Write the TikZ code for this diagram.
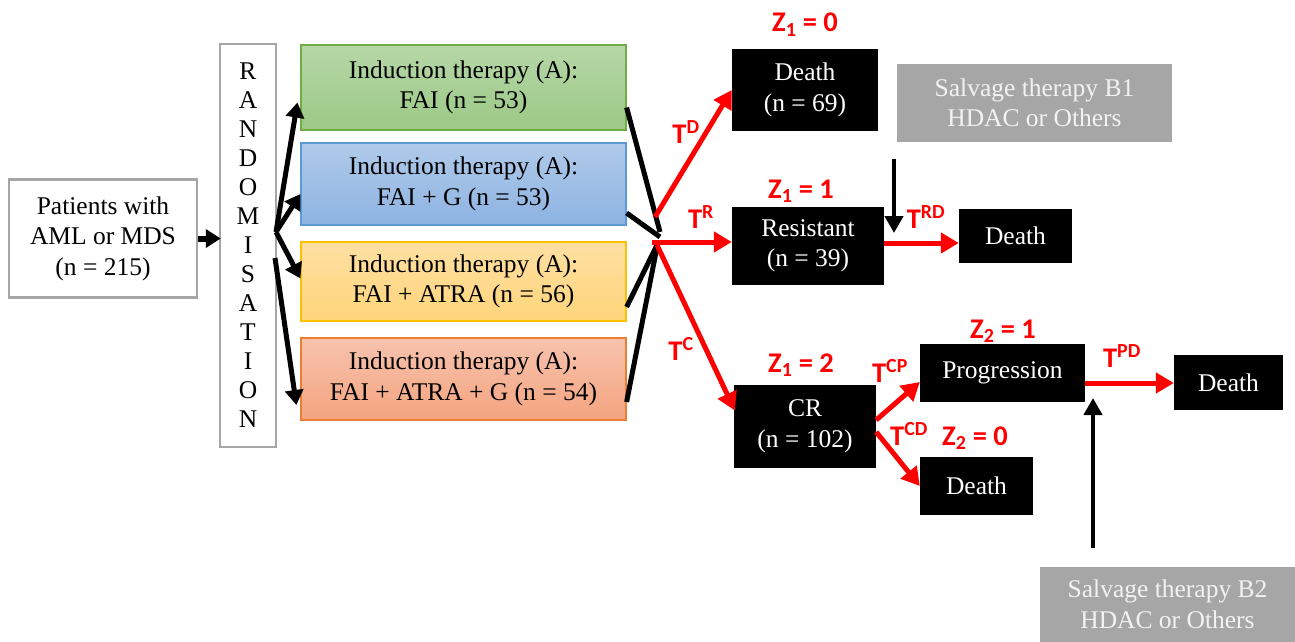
\documentclass[tikz,border=0pt]{standalone}
\usepackage{fontspec}
\setmainfont{Liberation Serif}
\newfontfamily\labfont{Carlito}
\usetikzlibrary{arrows.meta}

\definecolor{boxgray}{HTML}{A6A6A6}
\definecolor{salvtext}{HTML}{F2F2F2}
\definecolor{grnTop}{HTML}{B6D7A8}
\definecolor{grnBot}{HTML}{9BC985}
\definecolor{grnLine}{HTML}{70AD47}
\definecolor{bluTop}{HTML}{B0CAE9}
\definecolor{bluBot}{HTML}{8DB3E2}
\definecolor{bluLine}{HTML}{5B9BD5}
\definecolor{ylwTop}{HTML}{FFE0A3}
\definecolor{ylwBot}{HTML}{FFD57A}
\definecolor{ylwLine}{HTML}{FFC000}
\definecolor{orgTop}{HTML}{F7C3AE}
\definecolor{orgBot}{HTML}{F4A47F}
\definecolor{orgLine}{HTML}{ED7D31}

\tikzset{
  txt/.style={font=\fontsize{25.5}{30.5}\selectfont, align=center, inner sep=0pt},
  whitebox/.style={txt, draw=boxgray, line width=2.5pt, fill=white},
  armbox/.style={txt, minimum width=325pt, line width=1.2pt},
  statebox/.style={txt, fill=black, text=white},
  salvbox/.style={txt, fill=boxgray, text=salvtext},
  lab/.style={font=\labfont\bfseries\fontsize{28.5}{32}\selectfont, text=red, anchor=base, inner sep=0pt},
  redarrow/.style={draw=red, line width=5pt, -{Triangle[length=18pt,width=20pt]}},
  blkarrow/.style={draw=black, line width=5pt, -{Triangle[length=15pt,width=18pt]}},
  thinarrow/.style={draw=black, line width=4.5pt, -{Triangle[length=17pt,width=18pt]}},
  joinline/.style={draw=black, line width=5pt},
}

\begin{document}
\begin{tikzpicture}[x=1pt, y=-1pt]
\useasboundingbox (0,0) rectangle (1295,642);

% start and randomisation
\node[whitebox, minimum width=188pt, minimum height=118pt] (pat) at (103,238.5)
  {Patients with\\AML or MDS\\(n = 215)};
\node[whitebox, minimum width=56pt, minimum height=403pt, font=\fontsize{25.5}{29}\selectfont] (rand) at (248,245.5)
  {R\\A\\N\\D\\O\\M\\I\\S\\A\\T\\I\\O\\N};

% induction arms
\node[armbox, minimum height=85pt, draw=grnLine, top color=grnTop, bottom color=grnBot] (armA) at (463.5,87.5)
  {Induction therapy (A):\\FAI (n = 53)};
\node[armbox, minimum height=82pt, draw=bluLine, top color=bluTop, bottom color=bluBot] (armB) at (463.5,184)
  {Induction therapy (A):\\FAI + G (n = 53)};
\node[armbox, minimum height=79pt, draw=ylwLine, top color=ylwTop, bottom color=ylwBot] (armC) at (463.5,281.5)
  {Induction therapy (A):\\FAI + ATRA (n = 56)};
\node[armbox, minimum height=82pt, draw=orgLine, top color=orgTop, bottom color=orgBot] (armD) at (463.5,379)
  {Induction therapy (A):\\FAI + ATRA + G (n = 54)};

% outcome states
\node[statebox, minimum width=146pt, minimum height=82pt] (death1) at (805,90) {Death\\(n = 69)};
\node[salvbox, minimum width=275pt, minimum height=78pt] (salv1) at (1034.5,103) {Salvage therapy B1\\HDAC or Others};
\node[statebox, minimum width=152pt, minimum height=78pt] (resist) at (808,246) {Resistant\\(n = 39)};
\node[statebox, minimum width=113pt, minimum height=54pt] (death2) at (1015.5,236) {Death};
\node[statebox, minimum width=142pt, minimum height=83pt] (cr) at (805,426.5) {CR\\(n = 102)};
\node[statebox, minimum width=165pt, minimum height=58pt] (prog) at (1002.5,373) {Progression};
\node[statebox, minimum width=113pt, minimum height=58pt] (death3) at (976.5,486) {Death};
\node[statebox, minimum width=109pt, minimum height=55pt] (death4) at (1228.5,382.5) {Death};
\node[salvbox, minimum width=255pt, minimum height=75pt] (salv2) at (1167.5,604.5) {Salvage therapy B2\\HDAC or Others};

% junction points
\coordinate (hub) at (276,232);
\coordinate (hubLow) at (275,258);
\coordinate (jA) at (660,232);
\coordinate (jB) at (660,237);
\coordinate (jC) at (657,245);
\coordinate (jD) at (657,247);
\coordinate (rD) at (655,217);
\coordinate (rR) at (652,242);
\coordinate (rC) at (657,245);
\coordinate (b1top) at (894,159);
\coordinate (b1tip) at (894,233);
\coordinate (b2bot) at (1093,548);
\coordinate (b2tip) at (1093,398);

% randomisation arrows
\draw[blkarrow, line width=6pt, -{Triangle[length=15pt,width=18pt]}] (pat.east) -- ([xshift=2pt]rand.west |- pat.east);
\draw[blkarrow] (hub) -- ([xshift=-3pt,yshift=-15pt]armA.west);
\draw[blkarrow] (hub) -- ([yshift=-10pt]armB.west);
\draw[blkarrow] (hub) -- ([yshift=3pt]armC.west);
\draw[blkarrow] (hubLow) -- ([xshift=-4pt,yshift=-26pt]armD.west);

% arms joining
\draw[joinline] ([yshift=-20pt]armA.east) -- (jA);
\draw[joinline] ([yshift=-29pt]armB.east) -- (jB);
\draw[joinline] ([yshift=-25.5pt]armC.east) -- (jC);
\draw[joinline] ([yshift=-23pt]armD.east) -- (jD);

% transitions
\draw[redarrow] (rD) -- (death1.west);
\draw[redarrow] (rR) -- (rR -| resist.west);
\draw[redarrow] (rC) -- ([xshift=1pt,yshift=16pt]cr.west);
\draw[redarrow] ([yshift=3pt]resist.east) -- ([yshift=3pt]resist.east -| death2.west);
\draw[redarrow] ([yshift=6.5pt]cr.east) -- ([yshift=-9pt]prog.west);
\draw[redarrow] ([yshift=-5.5pt]cr.east) -- (death3.west);
\draw[redarrow] ([yshift=-10pt]prog.east) -- ([yshift=-10pt]prog.east -| death4.west);

% salvage therapy entries
\draw[thinarrow] (b1top) -- (b1tip);
\draw[thinarrow] (b2bot) -- (b2tip);

% labels
\node[lab] (z10) at (805,32) {Z\textsubscript{1} = 0};
\node[lab] (z11) at (801,198) {Z\textsubscript{1} = 1};
\node[lab] (z12) at (801,372) {Z\textsubscript{1} = 2};
\node[lab] (z21) at (1003,338) {Z\textsubscript{2} = 1};
\node[lab] (z20) at (975,445) {Z\textsubscript{2} = 0};
\node[lab] (tD) at (686,143) {T\textsuperscript{D}};
\node[lab] (tR) at (701,228) {T\textsuperscript{R}};
\node[lab] (tC) at (681,360) {T\textsuperscript{C}};
\node[lab] (tRD) at (926,228) {T\textsuperscript{RD}};
\node[lab] (tCP) at (890,382) {T\textsuperscript{CP}};
\node[lab] (tCD) at (909,445) {T\textsuperscript{CD}};
\node[lab] (tPD) at (1122,367) {T\textsuperscript{PD}};
\end{tikzpicture}
\end{document}
